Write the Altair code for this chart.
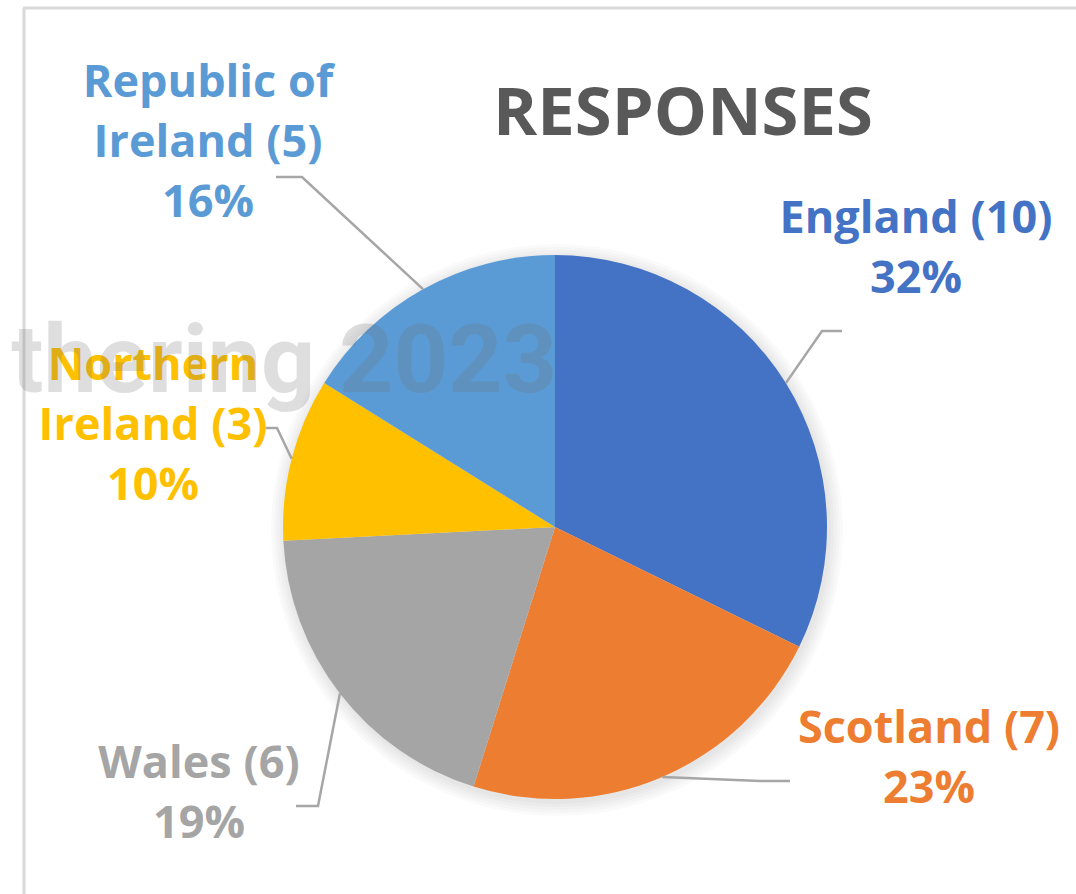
import math
import pandas as pd
import altair as alt

# ---- data ----
countries = ["England", "Scotland", "Wales", "Northern Ireland", "Republic of Ireland"]
responses = [10, 7, 6, 3, 5]
label_names = ["England", "Scotland", "Wales", "Northern\nIreland", "Republic of\nIreland"]
colors = ["#4472C4", "#ED7D31", "#A5A5A5", "#FFC000", "#5B9BD5"]
title_text = "RESPONSES"
watermark_text = "thering 2023"

# ---- layout (pixels in the page) ----
W, H = 1076, 894
CX, CY, R = 555, 527, 272
# label anchor: centre x, baseline of first line
label_pos = [(916, 233), (929, 743), (199, 778), (153, 380), (208, 97)]
# leader lines: elbow, end
leader_pts = [
    [(822, 331), (842, 331)],
    [(760, 781), (790, 781)],
    [(318, 806), (296, 806)],
    [(277, 428), (262, 428)],
    [(302, 177), (276, 177)],
]

total = sum(responses)
pcts = [round(v / total * 100) for v in responses]

pie_df = pd.DataFrame({"country": countries, "value": responses, "order": list(range(len(countries)))})
one = pd.DataFrame({"a": [0]})

label_df = pd.DataFrame({
    "country": countries,
    "x": [p[0] for p in label_pos],
    "y": [p[1] for p in label_pos],
    "text": [f"{n} ({v})\n{p}%" for n, v, p in zip(label_names, responses, pcts)],
})

rows = []
cum = 0
for i, (c, v) in enumerate(zip(countries, responses)):
    mid = (cum + v / 2) / total * 2 * math.pi
    cum += v
    sx = CX + R * math.sin(mid)
    sy = CY - R * math.cos(mid)
    pts = [(sx, sy)] + leader_pts[i]
    for k, (px, py) in enumerate(pts):
        rows.append({"country": c, "k": k, "x": px, "y": py})
leader_df = pd.DataFrame(rows)

xs = alt.Scale(domain=[0, W], nice=False, zero=False)
ys = alt.Scale(domain=[0, H], nice=False, zero=False, reverse=True)
cscale = alt.Scale(domain=countries, range=colors)

# soft shadow around the pie
shadow_layers = []
for r in [286, 283, 280, 277, 274]:
    shadow_layers.append(
        alt.Chart(one).mark_arc(outerRadius=r, theta=0, theta2=2 * math.pi, color="#000000", opacity=0.018)
        .encode(x=alt.value(CX + 2), y=alt.value(CY + 3))
    )

pie = alt.Chart(pie_df).mark_arc(outerRadius=R).encode(
    theta=alt.Theta("value:Q", stack=True),
    color=alt.Color("country:N", scale=cscale, legend=None),
    order=alt.Order("order:Q"),
    x=alt.value(CX),
    y=alt.value(CY),
)

leaders = alt.Chart(leader_df).mark_line(color="#A6A6A6", strokeWidth=2.5).encode(
    x=alt.X("x:Q", scale=xs, axis=None),
    y=alt.Y("y:Q", scale=ys, axis=None),
    detail="country:N",
    order="k:Q",
)

labels = alt.Chart(label_df).mark_text(
    font="Open Sans", fontSize=45, fontWeight="bold", lineHeight=60,
    align="center", baseline="alphabetic", lineBreak="\n",
).encode(
    x=alt.X("x:Q", scale=xs, axis=None),
    y=alt.Y("y:Q", scale=ys, axis=None),
    text="text:N",
    color=alt.Color("country:N", scale=cscale, legend=None),
)

title = alt.Chart(pd.DataFrame({"t": [title_text], "x": [683], "y": [135]})).mark_text(
    font="Open Sans", fontSize=67, fontWeight="bold", color="#595959",
    align="center", baseline="alphabetic",
).encode(x=alt.X("x:Q", scale=xs, axis=None), y=alt.Y("y:Q", scale=ys, axis=None), text="t:N")

watermark = alt.Chart(pd.DataFrame({"t": [watermark_text], "x": [557], "y": [392]})).mark_text(
    font="Roboto", fontSize=95, fontWeight="bold", color="#6f6f6f", opacity=0.22,
    align="right", baseline="alphabetic",
).encode(x=alt.X("x:Q", scale=xs, axis=None), y=alt.Y("y:Q", scale=ys, axis=None), text="t:N")

border_top = alt.Chart(one).mark_rule(color="#D9D9D9", strokeWidth=3).encode(
    x=alt.value(23), x2=alt.value(W), y=alt.value(8))
border_left = alt.Chart(one).mark_rule(color="#D9D9D9", strokeWidth=3).encode(
    x=alt.value(24), y=alt.value(8), y2=alt.value(H))

chart = alt.layer(
    border_top, border_left, *shadow_layers, pie, leaders, labels, title, watermark
).properties(
    width=W, height=H, padding=0, background="white",
    autosize=alt.AutoSizeParams(type="none"),
).configure_view(stroke=None)

chart.save("out.html", embed_options={"renderer": "svg", "actions": False})
